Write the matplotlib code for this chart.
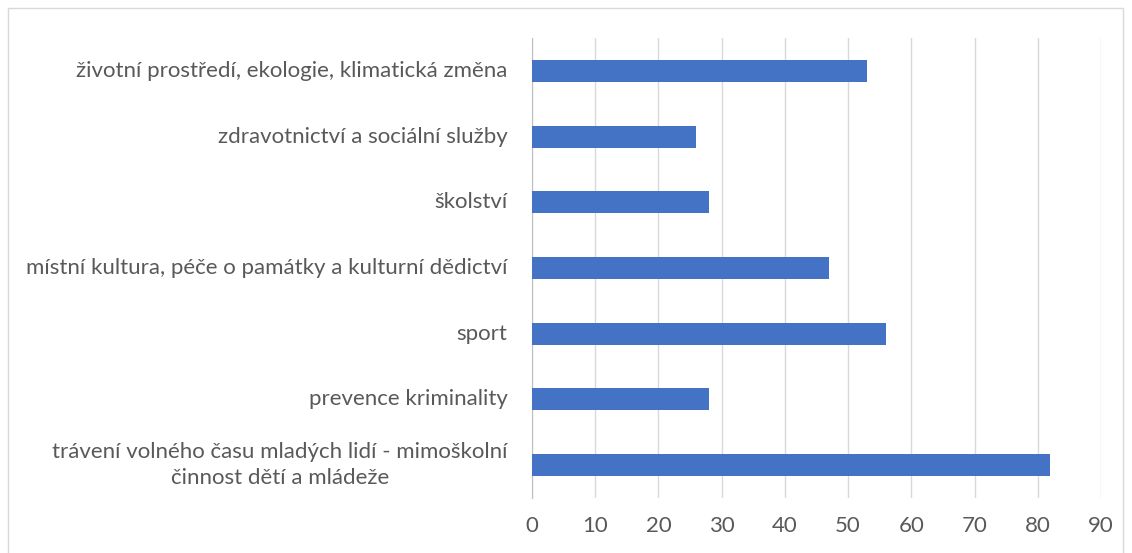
import matplotlib.pyplot as plt
from matplotlib.patches import Rectangle

categories = [
    "trávení volného času mladých lidí - mimoškolní\nčinnost dětí a mládeže",
    "prevence kriminality",
    "sport",
    "místní kultura, péče o památky a kulturní dědictví",
    "školství",
    "zdravotnictví a sociální služby",
    "životní prostředí, ekologie, klimatická změna",
]
values = [82, 28, 56, 47, 28, 26, 53]
ticks = list(range(0, 100, 10))

plt.rcParams["font.family"] = ["Lato", "DejaVu Sans"]
text_color = "#595959"

fig = plt.figure(figsize=(11.32, 5.53), dpi=100)
fig.patches.append(Rectangle((8 / 1132, -0.1), 1115 / 1132, 1.1 - 8 / 553,
                             transform=fig.transFigure, fill=False,
                             edgecolor="#d9d9d9", linewidth=1))
ax = fig.add_axes([532 / 1132, 1 - 498 / 553, 569 / 1132, 460 / 553])

ax.barh(range(len(categories)), values, height=0.335, color="#4472c4", zorder=3)
ax.set_xlim(0, 90)
ax.set_ylim(-0.5, len(categories) - 0.5)
ax.set_xticks(ticks)
ax.set_yticks(range(len(categories)))
ax.set_yticklabels([])
# category labels drawn as text so the two-line one can be centred
for i, cat in enumerate(categories):
    ax.text(-0.043, i, cat, transform=ax.get_yaxis_transform(),
            ha="right", va="center", multialignment="center",
            linespacing=1.4, fontsize=16, color=text_color)
ax.grid(axis="x", color="#d9d9d9", linewidth=1, zorder=0)
for s in ["top", "right", "bottom"]:
    ax.spines[s].set_visible(False)
ax.spines["left"].set_color("#bfbfbf")
ax.tick_params(axis="y", length=0)
ax.tick_params(axis="x", length=0, pad=13, labelsize=16, labelcolor=text_color)

fig.savefig("out.png", dpi=100)
